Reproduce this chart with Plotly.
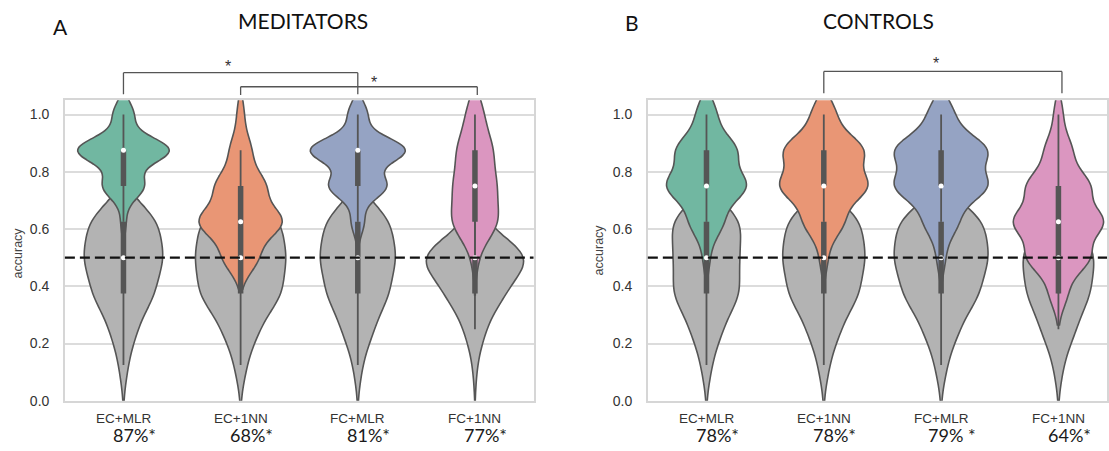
import numpy as np
import plotly.graph_objects as go

# ---------------- data ----------------
categories = ["EC+MLR", "EC+1NN", "FC+MLR", "FC+1NN"]
levels = [0.0, 0.125, 0.25, 0.375, 0.5, 0.625, 0.75, 0.875, 1.0]

# counts of accuracy values per level (levels above)
med_real_ec_mlr = [0, 0, 0, 0, 0, 1, 8, 18, 4]
med_real_ec_1nn = [0, 0, 0, 0, 5, 12, 7, 3, 1]
med_real_fc_mlr = [0, 0, 0, 0, 0, 2, 9, 15, 3]
med_real_fc_1nn = [0, 0, 0, 0, 1, 8, 7, 6, 3]
med_null_ec_mlr = [0, 2, 6, 14, 18, 16, 0, 0, 0]
med_null_ec_1nn = [0, 2, 6, 14, 15, 14, 0, 0, 0]
med_null_fc_mlr = [0, 2, 7, 14, 17, 15, 0, 0, 0]
med_null_fc_1nn = [0, 1, 5, 14, 28, 4, 0, 0, 0]

ctl_real_ec_mlr = [0, 0, 0, 0, 1, 5, 12, 9, 3]
ctl_real_ec_1nn = [0, 0, 0, 0, 1, 5, 11, 10, 3]
ctl_real_fc_mlr = [0, 0, 0, 0, 1, 4, 11, 11, 3]
ctl_real_fc_1nn = [0, 0, 0, 2, 7, 10, 7, 3, 1]
ctl_null_ec_mlr = [0, 2, 6, 13, 12, 14, 0, 0, 0]
ctl_null_ec_1nn = [0, 2, 6, 13, 15, 14, 0, 0, 0]
ctl_null_fc_mlr = [0, 2, 6, 13, 16, 15, 0, 0, 0]
ctl_null_fc_1nn = [0, 2, 7, 13, 15, 9, 0, 0, 0]

med_pct_labels = ["87%*", "68%*", "81%*", "77%*"]
ctl_pct_labels = ["78%*", "78%*", "79% *", "64%*"]

# ---------------- styles ----------------
real_colors = ["#71b7a1", "#e99675", "#95a3c3", "#db96c0"]
null_color = "#b3b3b3"
edge = "#555555"

med_real_w = [0.78, 0.71, 0.81, 0.40]
med_null_w = [0.67, 0.77, 0.64, 0.83]
ctl_real_w = [0.68, 0.75, 0.80, 0.77]
ctl_null_w = [0.58, 0.70, 0.80, 0.60]
med_real_bw = [0.045, 0.055, 0.045, 0.065]
ctl_real_bw = [0.055, 0.055, 0.055, 0.055]
null_bw = 0.07
sans = "Arial, 'Liberation Sans', sans-serif"


def expand(counts):
    return np.repeat(np.array(levels), np.array(counts))


def box_stats(s):
    q1, q2, q3 = np.percentile(s, [25, 50, 75])
    iqr = q3 - q1
    lo = s[s >= q1 - 1.5 * iqr].min()
    hi = s[s <= q3 + 1.5 * iqr].max()
    return lo, q1, q2, q3, hi


fig = go.Figure()

panels = [
    ("x", "y",
     [med_null_ec_mlr, med_null_ec_1nn, med_null_fc_mlr, med_null_fc_1nn],
     [med_real_ec_mlr, med_real_ec_1nn, med_real_fc_mlr, med_real_fc_1nn],
     med_null_w, med_real_w, med_real_bw),
    ("x2", "y2",
     [ctl_null_ec_mlr, ctl_null_ec_1nn, ctl_null_fc_mlr, ctl_null_fc_1nn],
     [ctl_real_ec_mlr, ctl_real_ec_1nn, ctl_real_fc_mlr, ctl_real_fc_1nn],
     ctl_null_w, ctl_real_w, ctl_real_bw),
]

for xa, ya, nulls, reals, nw, rw, rbw in panels:
    # violins
    for i, cat in enumerate(categories):
        for counts, col, w, bw in ((nulls[i], null_color, nw[i], null_bw),
                                   (reals[i], real_colors[i], rw[i], rbw[i])):
            s = expand(counts)
            fig.add_trace(go.Violin(
                x=[cat] * len(s), y=s, xaxis=xa, yaxis=ya,
                fillcolor=col, line=dict(color=edge, width=1.6), opacity=1,
                width=w, bandwidth=bw, spanmode="soft", scalemode="width",
                points=False, box_visible=False, meanline_visible=False,
                showlegend=False, hoverinfo="skip"))
    # inner boxes
    for i, cat in enumerate(categories):
        for counts in (nulls[i], reals[i]):
            lo, q1, q2, q3, hi = box_stats(expand(counts))
            fig.add_trace(go.Scatter(x=[cat, cat], y=[lo, hi], xaxis=xa, yaxis=ya,
                                     mode="lines", line=dict(color=edge, width=1.8),
                                     showlegend=False, hoverinfo="skip"))
            fig.add_trace(go.Scatter(x=[cat, cat], y=[q1, q3], xaxis=xa, yaxis=ya,
                                     mode="lines", line=dict(color=edge, width=5.5),
                                     showlegend=False, hoverinfo="skip"))
    for i, cat in enumerate(categories):
        for counts in (nulls[i], reals[i]):
            lo, q1, q2, q3, hi = box_stats(expand(counts))
            fig.add_trace(go.Scatter(x=[cat], y=[q2], xaxis=xa, yaxis=ya,
                                     mode="markers",
                                     marker=dict(color="white", size=5, line=dict(width=0)),
                                     showlegend=False, hoverinfo="skip"))

ydom = [1 - 408 / 451, 1 - 102 / 451]
axis_common_y = dict(range=[0, 1.05], tickvals=[0, 0.2, 0.4, 0.6, 0.8, 1.0], tickformat=".1f",
                     showgrid=True, gridcolor="#dcdcdc", gridwidth=1.5, zeroline=False,
                     showline=True, mirror=True, linecolor="#d6d6d6", linewidth=1.5,
                     ticks="", ticklabelstandoff=11,
                     tickfont=dict(family=sans, size=14, color="#333333"),
                     domain=ydom, fixedrange=True)
axis_common_x = dict(type="category", categoryorder="array", categoryarray=categories,
                     showgrid=False, zeroline=False, showticklabels=False, ticks="",
                     showline=True, mirror=True, linecolor="#d6d6d6", linewidth=1.5,
                     fixedrange=True)

fig.update_layout(
    width=1109, height=451, margin=dict(l=0, r=0, t=0, b=0),
    paper_bgcolor="white", plot_bgcolor="white", violinmode="overlay",
    xaxis=dict(axis_common_x, domain=[65 / 1109, 534.5 / 1109], range=[-0.5, 3.5], anchor="y"),
    yaxis=dict(axis_common_y, anchor="x"),
    xaxis2=dict(axis_common_x, domain=[649 / 1109, 1.0], range=[-0.5, 3.414], anchor="y2"),
    yaxis2=dict(axis_common_y, anchor="x2"),
)

shapes = []
for xr, yr in (("x", "y"), ("x2", "y2")):
    shapes.append(dict(type="line", xref=xr + " domain", yref=yr, x0=0, x1=1, y0=0.5, y1=0.5,
                       line=dict(color="#111111", width=2.2, dash="10px,5px"), layer="above"))


def bracket(xr, a, b, ytop, ybot):
    for x0, x1, y0, y1 in ((a, a, ybot, ytop), (a, b, ytop, ytop), (b, b, ytop, ybot)):
        shapes.append(dict(type="line", xref=xr, yref="paper", x0=x0, x1=x1,
                           y0=1 - y0 / 451, y1=1 - y1 / 451,
                           line=dict(color="#555555", width=1.3)))


bracket("x", 0, 2, 74, 96)
bracket("x", 1, 3.02, 88.3, 96.7)
bracket("x2", 1, 3.03, 72.7, 95)
fig.update_layout(shapes=shapes)

ann = []
star_font = dict(family=sans, size=16, color="#333333")
for xr, xv, yv in (("x", 0.89, 68), ("x", 2.14, 84), ("x2", 1.96, 65)):
    ann.append(dict(x=xv, y=1 - yv / 451, xref=xr, yref="paper", text="*", showarrow=False,
                    font=star_font, xanchor="center", yanchor="middle"))

for xr, pcts in (("x", med_pct_labels), ("x2", ctl_pct_labels)):
    for cat, p in zip(categories, pcts):
        ann.append(dict(x=cat, y=1 - 426 / 451, xref=xr, yref="paper", text=cat, showarrow=False,
                        font=dict(family=sans, size=13.5, color="#333333"),
                        xanchor="center", yanchor="middle"))
        ann.append(dict(x=cat, y=1 - 443 / 451, xref=xr, yref="paper", text=p, showarrow=False,
                        xshift=11, font=dict(family="Lato", size=18, color="#1a1a1a"),
                        xanchor="center", yanchor="middle"))

title_font = dict(family="Lato", size=21, color="#111111")
for txt, px, py in (("MEDITATORS", 304, 21), ("CONTROLS", 880, 21), ("A", 61, 27), ("B", 633, 23)):
    ann.append(dict(x=px / 1109, y=1 - py / 451, xref="paper", yref="paper", text=txt,
                    showarrow=False, font=title_font, xanchor="center", yanchor="middle"))
for px, py in ((18, 257), (601, 254)):
    ann.append(dict(x=px / 1109, y=1 - py / 451, xref="paper", yref="paper", text="accuracy",
                    textangle=-90, showarrow=False, xanchor="center", yanchor="middle",
                    font=dict(family=sans, size=12.5, color="#444444")))
fig.update_layout(annotations=ann)

fig.write_html("out.html")
